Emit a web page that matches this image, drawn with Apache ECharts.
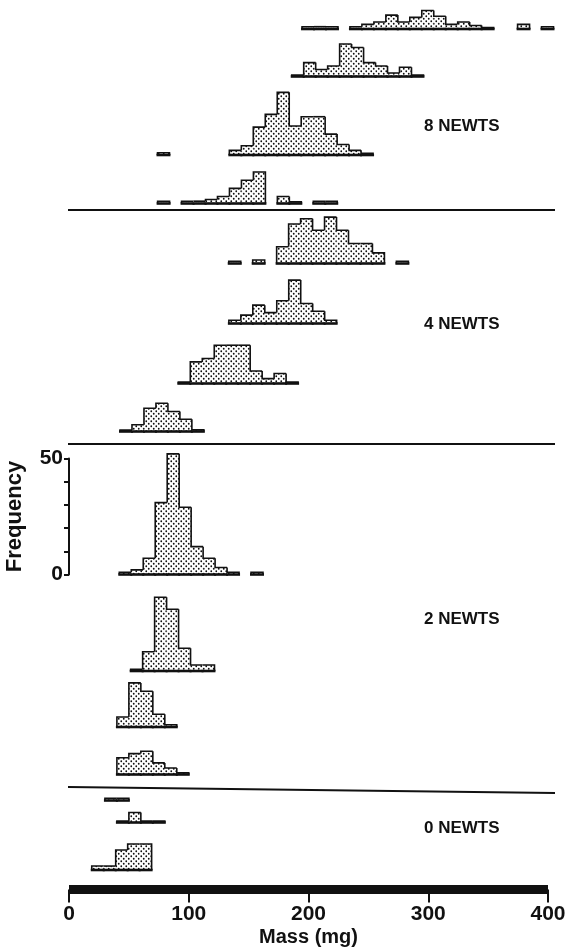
<!DOCTYPE html>
<html>
<head>
<meta charset="utf-8">
<script src="https://cdn.jsdelivr.net/npm/echarts@6/dist/echarts.min.js"></script>
<style>
  html, body { margin: 0; padding: 0; background: #fff; }
  #main { width: 570px; height: 947px; }
</style>
</head>
<body>
<div id="main"></div>
<script>
// bin width (mg) and x axis ticks
var binWidth = 10;
var massTicks = [0, 100, 200, 300, 400];

// first bin lower edge (mg) of every histogram, top to bottom
var binStart = [194.6, 186, 73.9, 74, 133.4, 133.5, 91.3, 42.6, 42, 51.5, 40, 40, 30, 40, 19];

// frequencies per 10 mg bin
// 8 newts
var newts8a = [1, 1, 1, 0, 1, 2, 3, 6, 3, 5, 8, 5.5, 2, 3, 1.5, 0.6, 0, 0, 2, 0, 1];
var newts8b = [0.6, 6, 3, 4.5, 14, 12.5, 6, 4.5, 1.5, 4, 0.6];
var newts8c = [1, 0, 0, 0, 0, 0, 2, 4, 12, 17.5, 27, 12.5, 16.5, 16.5, 9, 4.5, 2, 0.7];
var newts8d = [1, 0, 1, 1, 1.7, 3, 6.5, 10, 13.6, 0, 3, 0.7, 0, 1, 1];
// 4 newts
var newts4a = [1, 0, 1.5, 0, 7.2, 17, 19.3, 14.3, 20, 14.3, 8.6, 8.6, 4.6, 0, 1];
var newts4b = [1.4, 3.6, 7.9, 4.7, 9.8, 18.7, 8.6, 5.3, 1.4];
var newts4c = [0.6, 9.3, 10.8, 16.5, 16.5, 16.5, 5.4, 2.1, 4.3, 0.6];
var newts4d = [0.6, 2.9, 10, 12.2, 8.6, 5.3, 0.7];
// 2 newts
var newts2a = [1, 2, 7, 31, 52, 29, 12, 7, 3, 1, 0, 1];
var newts2b = [0.7, 8.3, 31.8, 26.6, 9.8, 2.6, 2.6];
var newts2c = [4.3, 19, 15.4, 5.5, 1];
var newts2d = [7.2, 9, 10, 5, 2.8, 0.7];
// 0 newts
var newts0a = [1, 1];
var newts0b = [0.6, 4.3, 0.6, 0.6];
var newts0c = [1.7, 1.7, 8.6, 11.2, 11.2];

var freqLists = [newts8a, newts8b, newts8c, newts8d, newts4a, newts4b, newts4c, newts4d,
                 newts2a, newts2b, newts2c, newts2d, newts0a, newts0b, newts0c];

// layout: pixel baseline of each histogram
var baselines = [29, 76.5, 155, 203.5, 263.5, 323.5, 383.5, 431.5, 574.5, 671, 727, 774.5, 800.5, 822.5, 870];
var axisRow = 8;
var pxPerFreq = 116 / 50;
var font = 'Liberation Sans, Arial, sans-serif';

// dotted fill
var dotCanvas = document.createElement('canvas');
dotCanvas.width = 5; dotCanvas.height = 5;
var dctx = dotCanvas.getContext('2d');
dctx.fillStyle = '#fff';
dctx.fillRect(0, 0, 5, 5);
dctx.fillStyle = '#111';
dctx.beginPath(); dctx.arc(1.25, 1.25, 0.9, 0, Math.PI * 2); dctx.fill();
dctx.beginPath(); dctx.arc(3.75, 3.75, 0.9, 0, Math.PI * 2); dctx.fill();
var dots = { image: dotCanvas, repeat: 'repeat' };

function binsOf(start, freq) {
  var out = [];
  for (var i = 0; i < freq.length; i++) {
    if (!freq[i]) continue;
    var prev = i > 0 ? freq[i - 1] : 0;
    var next = i < freq.length - 1 ? freq[i + 1] : 0;
    out.push([start + i * binWidth, start + (i + 1) * binWidth, freq[i], prev, next]);
  }
  return out;
}

function renderBin(params, api) {
  var x0 = api.value(0), x1 = api.value(1), h = api.value(2);
  var hp = api.value(3), hn = api.value(4);
  var b0 = api.coord([x0, 0]), b1 = api.coord([x1, 0]);
  var t0 = api.coord([x0, h]), t1 = api.coord([x1, h]);
  var p0 = api.coord([x0, hp]);
  var pts = [p0, t0, t1];
  if (!hn) pts.push(b1);
  return {
    type: 'group',
    children: [
      { type: 'rect', shape: { x: t0[0], y: t0[1], width: t1[0] - t0[0], height: b0[1] - t0[1] },
        style: { fill: dots } },
      { type: 'polyline', shape: { points: pts },
        style: { stroke: '#111', lineWidth: 1.6, fill: null } },
      { type: 'line', shape: { x1: b0[0] - 1, y1: b0[1], x2: b1[0] + 1, y2: b1[1] },
        style: { stroke: '#111', lineWidth: 2.6 } }
    ]
  };
}

var grids = [], xAxes = [], yAxes = [], series = [];
freqLists.forEach(function (freq, i) {
  var h = Math.min(116, baselines[i] - 1);
  grids.push({ left: 69, right: 22, top: baselines[i] - h, height: h, outerBoundsMode: 'none' });
  xAxes.push({ gridIndex: i, type: 'value', min: 0, max: 400, show: false });
  var y = { gridIndex: i, type: 'value', min: 0, max: h / pxPerFreq, show: false };
  if (i === axisRow) {
    y = {
      gridIndex: i, type: 'value', min: 0, max: 50, interval: 10,
      name: 'Frequency', nameLocation: 'middle', nameGap: 43, nameRotate: 90,
      nameTextStyle: { color: '#111', fontSize: 22, fontWeight: 'bold', fontFamily: font },
      axisLine: { show: true, lineStyle: { color: '#111', width: 2 } },
      axisTick: { show: true, length: 5, lineStyle: { color: '#111', width: 2 } },
      axisLabel: {
        margin: 6, color: '#111', fontSize: 21, fontWeight: 'bold', fontFamily: font,
        formatter: function (v) { return (v === 0 || v === 50) ? String(v) : ''; }
      },
      splitLine: { show: false }
    };
  }
  yAxes.push(y);
  series.push({
    type: 'custom',
    xAxisIndex: i, yAxisIndex: i,
    renderItem: renderBin,
    encode: { x: [0, 1], y: 2 },
    clip: false,
    silent: true,
    data: binsOf(binStart[i], freq)
  });
});

// mass axis
var massGrid = freqLists.length;
grids.push({ left: 69, right: 22, bottom: 57.5, height: 20, outerBoundsMode: 'none' });
xAxes.push({
  gridIndex: massGrid, type: 'value', min: massTicks[0], max: massTicks[massTicks.length - 1], interval: 100,
  name: 'Mass (mg)', nameLocation: 'middle', nameGap: 38,
  nameTextStyle: { color: '#111', fontSize: 20, fontWeight: 'bold', fontFamily: font },
  axisLine: { lineStyle: { color: '#111', width: 9, cap: 'butt' } },
  axisTick: { length: 13, lineStyle: { color: '#111', width: 2 } },
  axisLabel: { margin: 14, color: '#111', fontSize: 21, fontWeight: 'bold', fontFamily: font },
  splitLine: { show: false }
});
yAxes.push({ gridIndex: massGrid, type: 'value', show: false });

function groupLabel(text, y) {
  return { type: 'text', left: 424, top: y - 10,
    style: { text: text, fill: '#111', font: 'bold 17px ' + font } };
}
function rule(x1, y1, x2, y2) {
  return { type: 'line', shape: { x1: x1, y1: y1, x2: x2, y2: y2 },
    style: { stroke: '#111', lineWidth: 2 } };
}

var chart = echarts.init(document.getElementById('main'), null, { renderer: 'canvas' });
chart.setOption({
  backgroundColor: '#fff',
  animation: false,
  grid: grids,
  xAxis: xAxes,
  yAxis: yAxes,
  series: series,
  graphic: [
    rule(68, 210, 555, 210),
    rule(68, 444, 555, 444),
    rule(68, 787, 555, 793),
    groupLabel('8 NEWTS', 128),
    groupLabel('4 NEWTS', 326),
    groupLabel('2 NEWTS', 621),
    groupLabel('0 NEWTS', 830)
  ]
});
</script>
</body>
</html>
